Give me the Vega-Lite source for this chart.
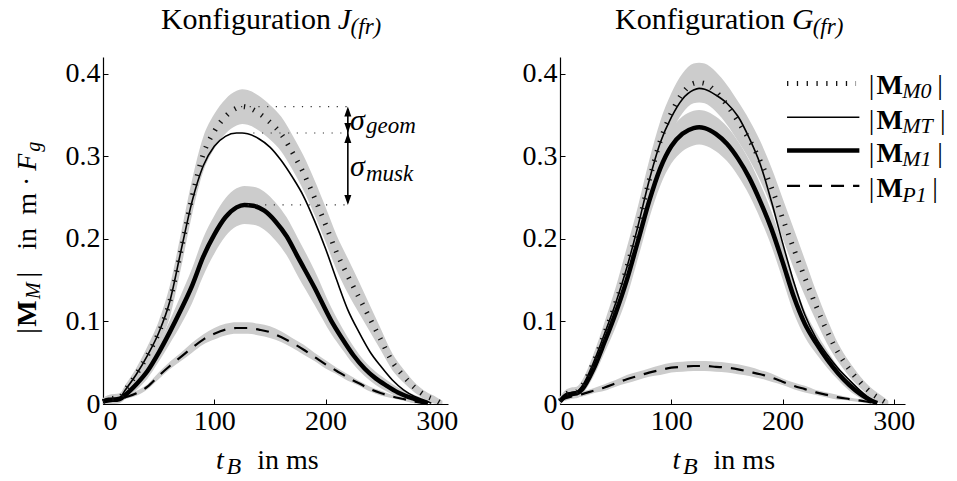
{
"$schema": "https://vega.github.io/schema/vega-lite/v6.json",
"padding": {"left": 14, "top": 4, "right": 0, "bottom": 0},
"spacing": 64,
"config": {
 "font": "Liberation Serif",
 "view": {"stroke": null},
 "axis": {"domainColor": "#000", "domainWidth": 1.2, "tickColor": "#000", "tickWidth": 1, "tickSize": -5, "labelFontSize": 28, "labelColor": "#000", "grid": false, "format": "~r", "labelPadding": 8},
 "text": {"color": "#000"}
},
"datasets": {
 "curves": [
  {"p":"J","s":"M0","x":0,"y":0.003,"lo":0,"hi":0.007},
  {"p":"J","s":"M0","x":5,"y":0.006,"lo":0.001,"hi":0.011},
  {"p":"J","s":"M0","x":10,"y":0.007,"lo":0.002,"hi":0.012},
  {"p":"J","s":"M0","x":15,"y":0.008,"lo":0.003,"hi":0.013},
  {"p":"J","s":"M0","x":20,"y":0.017,"lo":0.011,"hi":0.023},
  {"p":"J","s":"M0","x":30,"y":0.036,"lo":0.028,"hi":0.044},
  {"p":"J","s":"M0","x":40,"y":0.059,"lo":0.048,"hi":0.070},
  {"p":"J","s":"M0","x":50,"y":0.086,"lo":0.072,"hi":0.100},
  {"p":"J","s":"M0","x":60,"y":0.124,"lo":0.105,"hi":0.143},
  {"p":"J","s":"M0","x":70,"y":0.185,"lo":0.164,"hi":0.206},
  {"p":"J","s":"M0","x":80,"y":0.250,"lo":0.229,"hi":0.271},
  {"p":"J","s":"M0","x":90,"y":0.302,"lo":0.281,"hi":0.323},
  {"p":"J","s":"M0","x":100,"y":0.330,"lo":0.309,"hi":0.351},
  {"p":"J","s":"M0","x":110,"y":0.348,"lo":0.327,"hi":0.369},
  {"p":"J","s":"M0","x":120,"y":0.358,"lo":0.337,"hi":0.379},
  {"p":"J","s":"M0","x":125,"y":0.360,"lo":0.339,"hi":0.381},
  {"p":"J","s":"M0","x":130,"y":0.359,"lo":0.338,"hi":0.380},
  {"p":"J","s":"M0","x":140,"y":0.352,"lo":0.331,"hi":0.373},
  {"p":"J","s":"M0","x":150,"y":0.341,"lo":0.320,"hi":0.362},
  {"p":"J","s":"M0","x":160,"y":0.327,"lo":0.306,"hi":0.348},
  {"p":"J","s":"M0","x":170,"y":0.305,"lo":0.284,"hi":0.326},
  {"p":"J","s":"M0","x":180,"y":0.280,"lo":0.259,"hi":0.301},
  {"p":"J","s":"M0","x":190,"y":0.250,"lo":0.229,"hi":0.271},
  {"p":"J","s":"M0","x":200,"y":0.217,"lo":0.196,"hi":0.238},
  {"p":"J","s":"M0","x":210,"y":0.183,"lo":0.162,"hi":0.204},
  {"p":"J","s":"M0","x":220,"y":0.155,"lo":0.134,"hi":0.176},
  {"p":"J","s":"M0","x":230,"y":0.129,"lo":0.110,"hi":0.148},
  {"p":"J","s":"M0","x":240,"y":0.103,"lo":0.087,"hi":0.119},
  {"p":"J","s":"M0","x":250,"y":0.077,"lo":0.064,"hi":0.090},
  {"p":"J","s":"M0","x":260,"y":0.051,"lo":0.041,"hi":0.061},
  {"p":"J","s":"M0","x":270,"y":0.034,"lo":0.026,"hi":0.042},
  {"p":"J","s":"M0","x":280,"y":0.020,"lo":0.014,"hi":0.026},
  {"p":"J","s":"M0","x":290,"y":0.010,"lo":0.005,"hi":0.015},
  {"p":"J","s":"M0","x":300,"y":0.004,"lo":0,"hi":0.008},
  {"p":"J","s":"M0","x":305,"y":0.000,"lo":0,"hi":0.004},

  {"p":"J","s":"MT","x":0,"y":0.003},
  {"p":"J","s":"MT","x":5,"y":0.006},
  {"p":"J","s":"MT","x":10,"y":0.007},
  {"p":"J","s":"MT","x":15,"y":0.008},
  {"p":"J","s":"MT","x":20,"y":0.017},
  {"p":"J","s":"MT","x":30,"y":0.036},
  {"p":"J","s":"MT","x":40,"y":0.059},
  {"p":"J","s":"MT","x":50,"y":0.086},
  {"p":"J","s":"MT","x":60,"y":0.124},
  {"p":"J","s":"MT","x":70,"y":0.185},
  {"p":"J","s":"MT","x":80,"y":0.245},
  {"p":"J","s":"MT","x":90,"y":0.288},
  {"p":"J","s":"MT","x":100,"y":0.312},
  {"p":"J","s":"MT","x":110,"y":0.324},
  {"p":"J","s":"MT","x":120,"y":0.328},
  {"p":"J","s":"MT","x":125,"y":0.328},
  {"p":"J","s":"MT","x":130,"y":0.327},
  {"p":"J","s":"MT","x":140,"y":0.321},
  {"p":"J","s":"MT","x":150,"y":0.311},
  {"p":"J","s":"MT","x":160,"y":0.295},
  {"p":"J","s":"MT","x":170,"y":0.275},
  {"p":"J","s":"MT","x":180,"y":0.252},
  {"p":"J","s":"MT","x":190,"y":0.222},
  {"p":"J","s":"MT","x":200,"y":0.188},
  {"p":"J","s":"MT","x":210,"y":0.150},
  {"p":"J","s":"MT","x":220,"y":0.114},
  {"p":"J","s":"MT","x":230,"y":0.087},
  {"p":"J","s":"MT","x":240,"y":0.063},
  {"p":"J","s":"MT","x":250,"y":0.045},
  {"p":"J","s":"MT","x":260,"y":0.029},
  {"p":"J","s":"MT","x":270,"y":0.017},
  {"p":"J","s":"MT","x":280,"y":0.009},
  {"p":"J","s":"MT","x":290,"y":0.004},
  {"p":"J","s":"MT","x":295,"y":0.001},

  {"p":"J","s":"M1","x":0,"y":0.003,"lo":0,"hi":0.007},
  {"p":"J","s":"M1","x":5,"y":0.005,"lo":0,"hi":0.010},
  {"p":"J","s":"M1","x":10,"y":0.005,"lo":0,"hi":0.010},
  {"p":"J","s":"M1","x":15,"y":0.006,"lo":0.001,"hi":0.011},
  {"p":"J","s":"M1","x":20,"y":0.011,"lo":0.006,"hi":0.016},
  {"p":"J","s":"M1","x":30,"y":0.024,"lo":0.017,"hi":0.031},
  {"p":"J","s":"M1","x":40,"y":0.040,"lo":0.031,"hi":0.049},
  {"p":"J","s":"M1","x":50,"y":0.062,"lo":0.051,"hi":0.073},
  {"p":"J","s":"M1","x":60,"y":0.087,"lo":0.073,"hi":0.101},
  {"p":"J","s":"M1","x":70,"y":0.114,"lo":0.096,"hi":0.132},
  {"p":"J","s":"M1","x":80,"y":0.143,"lo":0.122,"hi":0.164},
  {"p":"J","s":"M1","x":90,"y":0.178,"lo":0.155,"hi":0.201},
  {"p":"J","s":"M1","x":100,"y":0.205,"lo":0.182,"hi":0.228},
  {"p":"J","s":"M1","x":110,"y":0.226,"lo":0.203,"hi":0.249},
  {"p":"J","s":"M1","x":120,"y":0.238,"lo":0.215,"hi":0.261},
  {"p":"J","s":"M1","x":127,"y":0.241,"lo":0.218,"hi":0.264},
  {"p":"J","s":"M1","x":135,"y":0.240,"lo":0.217,"hi":0.263},
  {"p":"J","s":"M1","x":145,"y":0.234,"lo":0.211,"hi":0.257},
  {"p":"J","s":"M1","x":155,"y":0.221,"lo":0.198,"hi":0.244},
  {"p":"J","s":"M1","x":165,"y":0.203,"lo":0.180,"hi":0.226},
  {"p":"J","s":"M1","x":175,"y":0.178,"lo":0.155,"hi":0.201},
  {"p":"J","s":"M1","x":190,"y":0.141,"lo":0.120,"hi":0.162},
  {"p":"J","s":"M1","x":205,"y":0.101,"lo":0.085,"hi":0.117},
  {"p":"J","s":"M1","x":215,"y":0.079,"lo":0.066,"hi":0.092},
  {"p":"J","s":"M1","x":225,"y":0.059,"lo":0.048,"hi":0.070},
  {"p":"J","s":"M1","x":235,"y":0.043,"lo":0.034,"hi":0.052},
  {"p":"J","s":"M1","x":245,"y":0.031,"lo":0.023,"hi":0.039},
  {"p":"J","s":"M1","x":255,"y":0.022,"lo":0.015,"hi":0.029},
  {"p":"J","s":"M1","x":265,"y":0.014,"lo":0.008,"hi":0.020},
  {"p":"J","s":"M1","x":280,"y":0.006,"lo":0.001,"hi":0.011},
  {"p":"J","s":"M1","x":292,"y":0.001,"lo":0,"hi":0.005},

  {"p":"J","s":"P1","x":0,"y":0.002,"lo":0,"hi":0.004},
  {"p":"J","s":"P1","x":10,"y":0.004,"lo":0.002,"hi":0.006},
  {"p":"J","s":"P1","x":20,"y":0.008,"lo":0.006,"hi":0.010},
  {"p":"J","s":"P1","x":30,"y":0.013,"lo":0.010,"hi":0.016},
  {"p":"J","s":"P1","x":40,"y":0.021,"lo":0.018,"hi":0.024},
  {"p":"J","s":"P1","x":50,"y":0.034,"lo":0.030,"hi":0.038},
  {"p":"J","s":"P1","x":60,"y":0.046,"lo":0.042,"hi":0.051},
  {"p":"J","s":"P1","x":70,"y":0.057,"lo":0.052,"hi":0.062},
  {"p":"J","s":"P1","x":80,"y":0.068,"lo":0.062,"hi":0.074},
  {"p":"J","s":"P1","x":90,"y":0.078,"lo":0.072,"hi":0.084},
  {"p":"J","s":"P1","x":100,"y":0.085,"lo":0.078,"hi":0.092},
  {"p":"J","s":"P1","x":110,"y":0.090,"lo":0.083,"hi":0.097},
  {"p":"J","s":"P1","x":120,"y":0.092,"lo":0.085,"hi":0.099},
  {"p":"J","s":"P1","x":130,"y":0.092,"lo":0.085,"hi":0.099},
  {"p":"J","s":"P1","x":140,"y":0.090,"lo":0.083,"hi":0.097},
  {"p":"J","s":"P1","x":150,"y":0.087,"lo":0.080,"hi":0.094},
  {"p":"J","s":"P1","x":160,"y":0.081,"lo":0.075,"hi":0.088},
  {"p":"J","s":"P1","x":170,"y":0.074,"lo":0.068,"hi":0.080},
  {"p":"J","s":"P1","x":180,"y":0.066,"lo":0.060,"hi":0.072},
  {"p":"J","s":"P1","x":190,"y":0.057,"lo":0.052,"hi":0.062},
  {"p":"J","s":"P1","x":200,"y":0.048,"lo":0.043,"hi":0.053},
  {"p":"J","s":"P1","x":210,"y":0.040,"lo":0.036,"hi":0.044},
  {"p":"J","s":"P1","x":220,"y":0.032,"lo":0.028,"hi":0.036},
  {"p":"J","s":"P1","x":230,"y":0.025,"lo":0.022,"hi":0.028},
  {"p":"J","s":"P1","x":240,"y":0.018,"lo":0.015,"hi":0.021},
  {"p":"J","s":"P1","x":250,"y":0.013,"lo":0.010,"hi":0.016},
  {"p":"J","s":"P1","x":260,"y":0.009,"lo":0.007,"hi":0.011},
  {"p":"J","s":"P1","x":270,"y":0.006,"lo":0.004,"hi":0.008},
  {"p":"J","s":"P1","x":280,"y":0.003,"lo":0.001,"hi":0.005},
  {"p":"J","s":"P1","x":290,"y":0.001,"lo":0,"hi":0.003},

  {"p":"G","s":"M0","x":0,"y":0.004,"lo":0,"hi":0.009},
  {"p":"G","s":"M0","x":5,"y":0.012,"lo":0.007,"hi":0.017},
  {"p":"G","s":"M0","x":10,"y":0.014,"lo":0.008,"hi":0.020},
  {"p":"G","s":"M0","x":15,"y":0.015,"lo":0.009,"hi":0.021},
  {"p":"G","s":"M0","x":20,"y":0.022,"lo":0.015,"hi":0.029},
  {"p":"G","s":"M0","x":30,"y":0.050,"lo":0.040,"hi":0.060},
  {"p":"G","s":"M0","x":40,"y":0.085,"lo":0.071,"hi":0.099},
  {"p":"G","s":"M0","x":50,"y":0.122,"lo":0.103,"hi":0.141},
  {"p":"G","s":"M0","x":60,"y":0.165,"lo":0.141,"hi":0.189},
  {"p":"G","s":"M0","x":70,"y":0.215,"lo":0.191,"hi":0.239},
  {"p":"G","s":"M0","x":80,"y":0.270,"lo":0.246,"hi":0.294},
  {"p":"G","s":"M0","x":90,"y":0.318,"lo":0.294,"hi":0.342},
  {"p":"G","s":"M0","x":100,"y":0.352,"lo":0.328,"hi":0.376},
  {"p":"G","s":"M0","x":110,"y":0.376,"lo":0.352,"hi":0.400},
  {"p":"G","s":"M0","x":120,"y":0.388,"lo":0.364,"hi":0.412},
  {"p":"G","s":"M0","x":125,"y":0.389,"lo":0.365,"hi":0.413},
  {"p":"G","s":"M0","x":130,"y":0.388,"lo":0.364,"hi":0.412},
  {"p":"G","s":"M0","x":140,"y":0.378,"lo":0.354,"hi":0.402},
  {"p":"G","s":"M0","x":150,"y":0.362,"lo":0.338,"hi":0.386},
  {"p":"G","s":"M0","x":160,"y":0.342,"lo":0.318,"hi":0.366},
  {"p":"G","s":"M0","x":170,"y":0.320,"lo":0.296,"hi":0.344},
  {"p":"G","s":"M0","x":180,"y":0.294,"lo":0.270,"hi":0.318},
  {"p":"G","s":"M0","x":190,"y":0.262,"lo":0.238,"hi":0.286},
  {"p":"G","s":"M0","x":200,"y":0.225,"lo":0.201,"hi":0.249},
  {"p":"G","s":"M0","x":210,"y":0.188,"lo":0.164,"hi":0.212},
  {"p":"G","s":"M0","x":220,"y":0.153,"lo":0.131,"hi":0.175},
  {"p":"G","s":"M0","x":230,"y":0.119,"lo":0.101,"hi":0.137},
  {"p":"G","s":"M0","x":240,"y":0.088,"lo":0.073,"hi":0.103},
  {"p":"G","s":"M0","x":250,"y":0.062,"lo":0.051,"hi":0.073},
  {"p":"G","s":"M0","x":260,"y":0.042,"lo":0.033,"hi":0.051},
  {"p":"G","s":"M0","x":270,"y":0.026,"lo":0.019,"hi":0.033},
  {"p":"G","s":"M0","x":280,"y":0.013,"lo":0.007,"hi":0.019},
  {"p":"G","s":"M0","x":290,"y":0.004,"lo":0,"hi":0.009},
  {"p":"G","s":"M0","x":295,"y":0.000,"lo":0,"hi":0.004},

  {"p":"G","s":"MT","x":0,"y":0.004},
  {"p":"G","s":"MT","x":5,"y":0.012},
  {"p":"G","s":"MT","x":10,"y":0.014},
  {"p":"G","s":"MT","x":15,"y":0.015},
  {"p":"G","s":"MT","x":20,"y":0.022},
  {"p":"G","s":"MT","x":30,"y":0.050},
  {"p":"G","s":"MT","x":40,"y":0.085},
  {"p":"G","s":"MT","x":50,"y":0.122},
  {"p":"G","s":"MT","x":60,"y":0.165},
  {"p":"G","s":"MT","x":70,"y":0.215},
  {"p":"G","s":"MT","x":80,"y":0.270},
  {"p":"G","s":"MT","x":90,"y":0.316},
  {"p":"G","s":"MT","x":100,"y":0.347},
  {"p":"G","s":"MT","x":110,"y":0.369},
  {"p":"G","s":"MT","x":120,"y":0.380},
  {"p":"G","s":"MT","x":125,"y":0.382},
  {"p":"G","s":"MT","x":130,"y":0.381},
  {"p":"G","s":"MT","x":140,"y":0.374},
  {"p":"G","s":"MT","x":150,"y":0.364},
  {"p":"G","s":"MT","x":160,"y":0.348},
  {"p":"G","s":"MT","x":170,"y":0.322},
  {"p":"G","s":"MT","x":180,"y":0.290},
  {"p":"G","s":"MT","x":190,"y":0.245},
  {"p":"G","s":"MT","x":200,"y":0.195},
  {"p":"G","s":"MT","x":210,"y":0.148},
  {"p":"G","s":"MT","x":220,"y":0.108},
  {"p":"G","s":"MT","x":230,"y":0.080},
  {"p":"G","s":"MT","x":240,"y":0.060},
  {"p":"G","s":"MT","x":250,"y":0.043},
  {"p":"G","s":"MT","x":260,"y":0.029},
  {"p":"G","s":"MT","x":270,"y":0.016},
  {"p":"G","s":"MT","x":280,"y":0.005},
  {"p":"G","s":"MT","x":285,"y":0.001},

  {"p":"G","s":"M1","x":0,"y":0.003,"lo":0,"hi":0.007},
  {"p":"G","s":"M1","x":5,"y":0.010,"lo":0.005,"hi":0.015},
  {"p":"G","s":"M1","x":10,"y":0.012,"lo":0.007,"hi":0.017},
  {"p":"G","s":"M1","x":15,"y":0.013,"lo":0.007,"hi":0.019},
  {"p":"G","s":"M1","x":20,"y":0.018,"lo":0.012,"hi":0.024},
  {"p":"G","s":"M1","x":30,"y":0.042,"lo":0.033,"hi":0.051},
  {"p":"G","s":"M1","x":40,"y":0.075,"lo":0.062,"hi":0.088},
  {"p":"G","s":"M1","x":50,"y":0.110,"lo":0.093,"hi":0.127},
  {"p":"G","s":"M1","x":60,"y":0.150,"lo":0.129,"hi":0.171},
  {"p":"G","s":"M1","x":70,"y":0.197,"lo":0.176,"hi":0.218},
  {"p":"G","s":"M1","x":80,"y":0.245,"lo":0.224,"hi":0.266},
  {"p":"G","s":"M1","x":90,"y":0.285,"lo":0.264,"hi":0.306},
  {"p":"G","s":"M1","x":100,"y":0.312,"lo":0.291,"hi":0.333},
  {"p":"G","s":"M1","x":110,"y":0.327,"lo":0.306,"hi":0.348},
  {"p":"G","s":"M1","x":120,"y":0.334,"lo":0.313,"hi":0.355},
  {"p":"G","s":"M1","x":125,"y":0.335,"lo":0.314,"hi":0.356},
  {"p":"G","s":"M1","x":130,"y":0.334,"lo":0.313,"hi":0.355},
  {"p":"G","s":"M1","x":140,"y":0.327,"lo":0.306,"hi":0.348},
  {"p":"G","s":"M1","x":150,"y":0.315,"lo":0.294,"hi":0.336},
  {"p":"G","s":"M1","x":160,"y":0.297,"lo":0.276,"hi":0.318},
  {"p":"G","s":"M1","x":170,"y":0.274,"lo":0.253,"hi":0.295},
  {"p":"G","s":"M1","x":180,"y":0.245,"lo":0.224,"hi":0.266},
  {"p":"G","s":"M1","x":190,"y":0.212,"lo":0.191,"hi":0.233},
  {"p":"G","s":"M1","x":200,"y":0.172,"lo":0.151,"hi":0.193},
  {"p":"G","s":"M1","x":210,"y":0.130,"lo":0.110,"hi":0.150},
  {"p":"G","s":"M1","x":220,"y":0.097,"lo":0.081,"hi":0.113},
  {"p":"G","s":"M1","x":230,"y":0.074,"lo":0.061,"hi":0.087},
  {"p":"G","s":"M1","x":240,"y":0.054,"lo":0.044,"hi":0.065},
  {"p":"G","s":"M1","x":250,"y":0.037,"lo":0.029,"hi":0.045},
  {"p":"G","s":"M1","x":260,"y":0.023,"lo":0.016,"hi":0.030},
  {"p":"G","s":"M1","x":270,"y":0.012,"lo":0.007,"hi":0.017},
  {"p":"G","s":"M1","x":280,"y":0.004,"lo":0,"hi":0.009},
  {"p":"G","s":"M1","x":285,"y":0.001,"lo":0,"hi":0.005},

  {"p":"G","s":"P1","x":0,"y":0.004,"lo":0.002,"hi":0.006},
  {"p":"G","s":"P1","x":5,"y":0.007,"lo":0.004,"hi":0.010},
  {"p":"G","s":"P1","x":10,"y":0.009,"lo":0.006,"hi":0.012},
  {"p":"G","s":"P1","x":20,"y":0.012,"lo":0.009,"hi":0.015},
  {"p":"G","s":"P1","x":30,"y":0.016,"lo":0.013,"hi":0.019},
  {"p":"G","s":"P1","x":40,"y":0.020,"lo":0.016,"hi":0.024},
  {"p":"G","s":"P1","x":50,"y":0.025,"lo":0.021,"hi":0.029},
  {"p":"G","s":"P1","x":60,"y":0.030,"lo":0.025,"hi":0.035},
  {"p":"G","s":"P1","x":70,"y":0.034,"lo":0.029,"hi":0.039},
  {"p":"G","s":"P1","x":80,"y":0.038,"lo":0.033,"hi":0.043},
  {"p":"G","s":"P1","x":90,"y":0.041,"lo":0.035,"hi":0.047},
  {"p":"G","s":"P1","x":100,"y":0.044,"lo":0.038,"hi":0.050},
  {"p":"G","s":"P1","x":110,"y":0.045,"lo":0.039,"hi":0.051},
  {"p":"G","s":"P1","x":120,"y":0.046,"lo":0.040,"hi":0.052},
  {"p":"G","s":"P1","x":130,"y":0.046,"lo":0.040,"hi":0.052},
  {"p":"G","s":"P1","x":140,"y":0.045,"lo":0.039,"hi":0.051},
  {"p":"G","s":"P1","x":150,"y":0.044,"lo":0.038,"hi":0.050},
  {"p":"G","s":"P1","x":160,"y":0.042,"lo":0.036,"hi":0.048},
  {"p":"G","s":"P1","x":170,"y":0.039,"lo":0.034,"hi":0.045},
  {"p":"G","s":"P1","x":180,"y":0.036,"lo":0.031,"hi":0.041},
  {"p":"G","s":"P1","x":190,"y":0.032,"lo":0.027,"hi":0.037},
  {"p":"G","s":"P1","x":200,"y":0.027,"lo":0.023,"hi":0.031},
  {"p":"G","s":"P1","x":210,"y":0.022,"lo":0.018,"hi":0.026},
  {"p":"G","s":"P1","x":220,"y":0.018,"lo":0.014,"hi":0.022},
  {"p":"G","s":"P1","x":230,"y":0.014,"lo":0.011,"hi":0.017},
  {"p":"G","s":"P1","x":240,"y":0.011,"lo":0.008,"hi":0.014},
  {"p":"G","s":"P1","x":250,"y":0.008,"lo":0.005,"hi":0.011},
  {"p":"G","s":"P1","x":260,"y":0.006,"lo":0.004,"hi":0.008},
  {"p":"G","s":"P1","x":270,"y":0.004,"lo":0.002,"hi":0.006},
  {"p":"G","s":"P1","x":280,"y":0.002,"lo":0,"hi":0.004},
  {"p":"G","s":"P1","x":285,"y":0.001,"lo":0,"hi":0.003}
 ]
},
"hconcat": [
 {
  "width": 345, "height": 347,
  "layer": [
   {"data": {"name": "curves"}, "transform": [{"filter": "datum.p==='J' && datum.s==='M0'"}], "mark": {"type": "area", "interpolate": "monotone", "color": "#cccccc", "opacity": 1}, "encoding": {"x": {"field": "x", "type": "quantitative", "scale": {"domain": [0, 310], "nice": false}, "axis": {"values": [0, 100, 200, 300], "title": null}}, "y": {"field": "lo", "type": "quantitative", "scale": {"domain": [0, 0.42], "nice": false}, "axis": {"values": [0, 0.1, 0.2, 0.3, 0.4], "title": null}}, "y2": {"field": "hi"}}},
   {"data": {"name": "curves"}, "transform": [{"filter": "datum.p==='J' && datum.s==='M1'"}], "mark": {"type": "area", "interpolate": "monotone", "color": "#cccccc", "opacity": 1}, "encoding": {"x": {"field": "x", "type": "quantitative", "scale": {"domain": [0, 310], "nice": false}, "axis": {"values": [0, 100, 200, 300], "title": null}}, "y": {"field": "lo", "type": "quantitative", "scale": {"domain": [0, 0.42], "nice": false}, "axis": {"values": [0, 0.1, 0.2, 0.3, 0.4], "title": null}}, "y2": {"field": "hi"}}},
   {"data": {"name": "curves"}, "transform": [{"filter": "datum.p==='J' && datum.s==='P1'"}], "mark": {"type": "area", "interpolate": "monotone", "color": "#cccccc", "opacity": 1}, "encoding": {"x": {"field": "x", "type": "quantitative", "scale": {"domain": [0, 310], "nice": false}, "axis": {"values": [0, 100, 200, 300], "title": null}}, "y": {"field": "lo", "type": "quantitative", "scale": {"domain": [0, 0.42], "nice": false}, "axis": {"values": [0, 0.1, 0.2, 0.3, 0.4], "title": null}}, "y2": {"field": "hi"}}},
   {"data": {"name": "curves"}, "transform": [{"filter": "datum.p==='J' && datum.s==='MT'"}], "mark": {"type": "line", "interpolate": "monotone", "color": "#000", "strokeWidth": 1.6}, "encoding": {"x": {"field": "x", "type": "quantitative", "scale": {"domain": [0, 310], "nice": false}, "axis": {"values": [0, 100, 200, 300], "title": null}}, "y": {"field": "y", "type": "quantitative", "scale": {"domain": [0, 0.42], "nice": false}, "axis": {"values": [0, 0.1, 0.2, 0.3, 0.4], "title": null}}}},
   {"data": {"name": "curves"}, "transform": [{"filter": "datum.p==='J' && datum.s==='M1'"}], "mark": {"type": "line", "interpolate": "monotone", "color": "#000", "strokeWidth": 4.5}, "encoding": {"x": {"field": "x", "type": "quantitative", "scale": {"domain": [0, 310], "nice": false}, "axis": {"values": [0, 100, 200, 300], "title": null}}, "y": {"field": "y", "type": "quantitative", "scale": {"domain": [0, 0.42], "nice": false}, "axis": {"values": [0, 0.1, 0.2, 0.3, 0.4], "title": null}}}},
   {"data": {"name": "curves"}, "transform": [{"filter": "datum.p==='J' && datum.s==='P1'"}], "mark": {"type": "line", "interpolate": "monotone", "color": "#000", "strokeWidth": 2.2, "strokeDash": [13, 9]}, "encoding": {"x": {"field": "x", "type": "quantitative", "scale": {"domain": [0, 310], "nice": false}, "axis": {"values": [0, 100, 200, 300], "title": null}}, "y": {"field": "y", "type": "quantitative", "scale": {"domain": [0, 0.42], "nice": false}, "axis": {"values": [0, 0.1, 0.2, 0.3, 0.4], "title": null}}}},
   {"data": {"name": "curves"}, "transform": [{"filter": "datum.p==='J' && datum.s==='M0'"}], "mark": {"type": "line", "interpolate": "monotone", "color": "#111", "strokeWidth": 5, "strokeDash": [1.3, 8.5], "strokeCap": "butt"}, "encoding": {"x": {"field": "x", "type": "quantitative", "scale": {"domain": [0, 310], "nice": false}, "axis": {"values": [0, 100, 200, 300], "title": null}}, "y": {"field": "y", "type": "quantitative", "scale": {"domain": [0, 0.42], "nice": false}, "axis": {"values": [0, 0.1, 0.2, 0.3, 0.4], "title": null}}}},

   {"data": {"values": [{}]}, "mark": {"type": "rule", "color": "#333", "strokeWidth": 1.2, "strokeDash": [1.2, 7.5]}, "encoding": {"x": {"datum": 124}, "x2": {"datum": 220}, "y": {"datum": 0.36}}},
   {"data": {"values": [{}]}, "mark": {"type": "rule", "color": "#333", "strokeWidth": 1.2, "strokeDash": [1.2, 7.5]}, "encoding": {"x": {"datum": 135}, "x2": {"datum": 220}, "y": {"datum": 0.328}}},
   {"data": {"values": [{}]}, "mark": {"type": "rule", "color": "#333", "strokeWidth": 1.2, "strokeDash": [1.2, 7.5]}, "encoding": {"x": {"datum": 130}, "x2": {"datum": 220}, "y": {"datum": 0.241}}},
   {"data": {"values": [{}]}, "mark": {"type": "rule", "color": "#000", "strokeWidth": 1.6}, "encoding": {"x": {"datum": 220}, "y": {"datum": 0.357}, "y2": {"datum": 0.244}}},
   {"data": {"values": [{}]}, "mark": {"type": "point", "shape": "M0,0L-0.7,2L0.7,2Z", "filled": true, "opacity": 1, "color": "#000", "size": 100}, "encoding": {"x": {"datum": 220}, "y": {"datum": 0.36}}},
   {"data": {"values": [{}]}, "mark": {"type": "point", "shape": "M0,0L-0.7,-2L0.7,-2Z", "filled": true, "opacity": 1, "color": "#000", "size": 100}, "encoding": {"x": {"datum": 220}, "y": {"datum": 0.328}}},
   {"data": {"values": [{}]}, "mark": {"type": "point", "shape": "M0,0L-0.7,2L0.7,2Z", "filled": true, "opacity": 1, "color": "#000", "size": 100}, "encoding": {"x": {"datum": 220}, "y": {"datum": 0.328}}},
   {"data": {"values": [{}]}, "mark": {"type": "point", "shape": "M0,0L-0.7,-2L0.7,-2Z", "filled": true, "opacity": 1, "color": "#000", "size": 100}, "encoding": {"x": {"datum": 220}, "y": {"datum": 0.241}}},
   {"data": {"values": [{}]}, "mark": {"type": "text", "text": "σ", "align": "left", "baseline": "alphabetic", "fontSize": 30, "fontStyle": "italic"}, "encoding": {"x": {"datum": 222}, "y": {"datum": 0.3317}}},
   {"data": {"values": [{}]}, "mark": {"type": "text", "text": "geom", "align": "left", "baseline": "alphabetic", "fontSize": 23, "fontStyle": "italic"}, "encoding": {"x": {"datum": 236.3}, "y": {"datum": 0.3275}}},
   {"data": {"values": [{}]}, "mark": {"type": "text", "text": "σ", "align": "left", "baseline": "alphabetic", "fontSize": 30, "fontStyle": "italic"}, "encoding": {"x": {"datum": 222}, "y": {"datum": 0.2764}}},
   {"data": {"values": [{}]}, "mark": {"type": "text", "text": "musk", "align": "left", "baseline": "alphabetic", "fontSize": 23, "fontStyle": "italic"}, "encoding": {"x": {"datum": 236.3}, "y": {"datum": 0.2705}}},

   {"data": {"values": [{}]}, "mark": {"type": "text", "text": "Konfiguration", "align": "right", "baseline": "alphabetic", "fontSize": 30}, "encoding": {"x": {"datum": 204.8}, "y": {"datum": 0.454}}},
   {"data": {"values": [{}]}, "mark": {"type": "text", "text": "J", "align": "left", "baseline": "alphabetic", "fontSize": 30, "fontStyle": "italic"}, "encoding": {"x": {"datum": 211}, "y": {"datum": 0.454}}},
   {"data": {"values": [{}]}, "mark": {"type": "text", "text": "(fr)", "align": "left", "baseline": "alphabetic", "fontSize": 23, "fontStyle": "italic"}, "encoding": {"x": {"datum": 222.5}, "y": {"datum": 0.448}}},

   {"data": {"values": [{}]}, "mark": {"type": "text", "text": "t", "align": "left", "baseline": "alphabetic", "fontSize": 28, "fontStyle": "italic"}, "encoding": {"x": {"datum": 101.5}, "y": {"datum": -0.0783}}},
   {"data": {"values": [{}]}, "mark": {"type": "text", "text": "B", "align": "left", "baseline": "alphabetic", "fontSize": 24, "fontStyle": "italic"}, "encoding": {"x": {"datum": 111}, "y": {"datum": -0.0844}}},
   {"data": {"values": [{}]}, "mark": {"type": "text", "text": "in ms", "align": "left", "baseline": "alphabetic", "fontSize": 28}, "encoding": {"x": {"datum": 138.5}, "y": {"datum": -0.0783}}},

   {"data": {"values": [{}]}, "mark": {"type": "text", "text": "|", "align": "left", "baseline": "alphabetic", "fontSize": 28, "angle": 270}, "encoding": {"x": {"datum": -60.2}, "y": {"datum": 0.0851}}},
   {"data": {"values": [{}]}, "mark": {"type": "text", "text": "M", "align": "left", "baseline": "alphabetic", "fontSize": 28, "fontWeight": "bold", "angle": 270}, "encoding": {"x": {"datum": -60.2}, "y": {"datum": 0.0936}}},
   {"data": {"values": [{}]}, "mark": {"type": "text", "text": "M", "align": "left", "baseline": "alphabetic", "fontSize": 20, "fontStyle": "italic", "angle": 270}, "encoding": {"x": {"datum": -56.6}, "y": {"datum": 0.127}}},
   {"data": {"values": [{}]}, "mark": {"type": "text", "text": "|", "align": "left", "baseline": "alphabetic", "fontSize": 28, "angle": 270}, "encoding": {"x": {"datum": -60.2}, "y": {"datum": 0.153}}},
   {"data": {"values": [{}]}, "mark": {"type": "text", "text": "in", "align": "left", "baseline": "alphabetic", "fontSize": 28, "angle": 270}, "encoding": {"x": {"datum": -60.2}, "y": {"datum": 0.1868}}},
   {"data": {"values": [{}]}, "mark": {"type": "text", "text": "m", "align": "left", "baseline": "alphabetic", "fontSize": 28, "angle": 270}, "encoding": {"x": {"datum": -60.2}, "y": {"datum": 0.2292}}},
   {"data": {"values": [{}]}, "mark": {"type": "text", "text": "·", "align": "left", "baseline": "alphabetic", "fontSize": 28, "angle": 270}, "encoding": {"x": {"datum": -60.2}, "y": {"datum": 0.264}}},
   {"data": {"values": [{}]}, "mark": {"type": "text", "text": "F", "align": "left", "baseline": "alphabetic", "fontSize": 28, "fontStyle": "italic", "angle": 270}, "encoding": {"x": {"datum": -60.2}, "y": {"datum": 0.2824}}},
   {"data": {"values": [{}]}, "mark": {"type": "text", "text": "g", "align": "left", "baseline": "alphabetic", "fontSize": 20, "fontStyle": "italic", "angle": 270}, "encoding": {"x": {"datum": -56.6}, "y": {"datum": 0.3054}}}
  ]
 },
 {
  "width": 345, "height": 347,
  "layer": [
   {"data": {"name": "curves"}, "transform": [{"filter": "datum.p==='G' && datum.s==='M0'"}], "mark": {"type": "area", "interpolate": "monotone", "color": "#cccccc", "opacity": 1}, "encoding": {"x": {"field": "x", "type": "quantitative", "scale": {"domain": [0, 310], "nice": false}, "axis": {"values": [0, 100, 200, 300], "title": null}}, "y": {"field": "lo", "type": "quantitative", "scale": {"domain": [0, 0.42], "nice": false}, "axis": {"values": [0, 0.1, 0.2, 0.3, 0.4], "title": null}}, "y2": {"field": "hi"}}},
   {"data": {"name": "curves"}, "transform": [{"filter": "datum.p==='G' && datum.s==='M1'"}], "mark": {"type": "area", "interpolate": "monotone", "color": "#cccccc", "opacity": 1}, "encoding": {"x": {"field": "x", "type": "quantitative", "scale": {"domain": [0, 310], "nice": false}, "axis": {"values": [0, 100, 200, 300], "title": null}}, "y": {"field": "lo", "type": "quantitative", "scale": {"domain": [0, 0.42], "nice": false}, "axis": {"values": [0, 0.1, 0.2, 0.3, 0.4], "title": null}}, "y2": {"field": "hi"}}},
   {"data": {"name": "curves"}, "transform": [{"filter": "datum.p==='G' && datum.s==='P1'"}], "mark": {"type": "area", "interpolate": "monotone", "color": "#cccccc", "opacity": 1}, "encoding": {"x": {"field": "x", "type": "quantitative", "scale": {"domain": [0, 310], "nice": false}, "axis": {"values": [0, 100, 200, 300], "title": null}}, "y": {"field": "lo", "type": "quantitative", "scale": {"domain": [0, 0.42], "nice": false}, "axis": {"values": [0, 0.1, 0.2, 0.3, 0.4], "title": null}}, "y2": {"field": "hi"}}},
   {"data": {"name": "curves"}, "transform": [{"filter": "datum.p==='G' && datum.s==='MT'"}], "mark": {"type": "line", "interpolate": "monotone", "color": "#000", "strokeWidth": 1.6}, "encoding": {"x": {"field": "x", "type": "quantitative", "scale": {"domain": [0, 310], "nice": false}, "axis": {"values": [0, 100, 200, 300], "title": null}}, "y": {"field": "y", "type": "quantitative", "scale": {"domain": [0, 0.42], "nice": false}, "axis": {"values": [0, 0.1, 0.2, 0.3, 0.4], "title": null}}}},
   {"data": {"name": "curves"}, "transform": [{"filter": "datum.p==='G' && datum.s==='M1'"}], "mark": {"type": "line", "interpolate": "monotone", "color": "#000", "strokeWidth": 4.5}, "encoding": {"x": {"field": "x", "type": "quantitative", "scale": {"domain": [0, 310], "nice": false}, "axis": {"values": [0, 100, 200, 300], "title": null}}, "y": {"field": "y", "type": "quantitative", "scale": {"domain": [0, 0.42], "nice": false}, "axis": {"values": [0, 0.1, 0.2, 0.3, 0.4], "title": null}}}},
   {"data": {"name": "curves"}, "transform": [{"filter": "datum.p==='G' && datum.s==='P1'"}], "mark": {"type": "line", "interpolate": "monotone", "color": "#000", "strokeWidth": 2.2, "strokeDash": [13, 9]}, "encoding": {"x": {"field": "x", "type": "quantitative", "scale": {"domain": [0, 310], "nice": false}, "axis": {"values": [0, 100, 200, 300], "title": null}}, "y": {"field": "y", "type": "quantitative", "scale": {"domain": [0, 0.42], "nice": false}, "axis": {"values": [0, 0.1, 0.2, 0.3, 0.4], "title": null}}}},
   {"data": {"name": "curves"}, "transform": [{"filter": "datum.p==='G' && datum.s==='M0'"}], "mark": {"type": "line", "interpolate": "monotone", "color": "#111", "strokeWidth": 5, "strokeDash": [1.3, 8.5], "strokeCap": "butt"}, "encoding": {"x": {"field": "x", "type": "quantitative", "scale": {"domain": [0, 310], "nice": false}, "axis": {"values": [0, 100, 200, 300], "title": null}}, "y": {"field": "y", "type": "quantitative", "scale": {"domain": [0, 0.42], "nice": false}, "axis": {"values": [0, 0.1, 0.2, 0.3, 0.4], "title": null}}}},

   {"data": {"values": [{}]}, "mark": {"type": "text", "text": "Konfiguration", "align": "right", "baseline": "alphabetic", "fontSize": 30}, "encoding": {"x": {"datum": 202.2}, "y": {"datum": 0.454}}},
   {"data": {"values": [{}]}, "mark": {"type": "text", "text": "G", "align": "left", "baseline": "alphabetic", "fontSize": 30, "fontStyle": "italic"}, "encoding": {"x": {"datum": 208.5}, "y": {"datum": 0.454}}},
   {"data": {"values": [{}]}, "mark": {"type": "text", "text": "(fr)", "align": "left", "baseline": "alphabetic", "fontSize": 23, "fontStyle": "italic"}, "encoding": {"x": {"datum": 227}, "y": {"datum": 0.448}}},

   {"data": {"values": [{}]}, "mark": {"type": "text", "text": "t", "align": "left", "baseline": "alphabetic", "fontSize": 28, "fontStyle": "italic"}, "encoding": {"x": {"datum": 101}, "y": {"datum": -0.0783}}},
   {"data": {"values": [{}]}, "mark": {"type": "text", "text": "B", "align": "left", "baseline": "alphabetic", "fontSize": 24, "fontStyle": "italic"}, "encoding": {"x": {"datum": 110.5}, "y": {"datum": -0.0844}}},
   {"data": {"values": [{}]}, "mark": {"type": "text", "text": "in ms", "align": "left", "baseline": "alphabetic", "fontSize": 28}, "encoding": {"x": {"datum": 138}, "y": {"datum": -0.0783}}},

   {"data": {"values": [{}]}, "mark": {"type": "rule", "color": "#111", "strokeWidth": 5, "strokeDash": [1.3, 8.5], "strokeCap": "butt"}, "encoding": {"x": {"datum": 204}, "x2": {"datum": 266}, "y": {"datum": 0.388}}},
   {"data": {"values": [{}]}, "mark": {"type": "rule", "color": "#000", "strokeWidth": 1.6}, "encoding": {"x": {"datum": 204}, "x2": {"datum": 269}, "y": {"datum": 0.347}}},
   {"data": {"values": [{}]}, "mark": {"type": "rule", "color": "#000", "strokeWidth": 4.5}, "encoding": {"x": {"datum": 204}, "x2": {"datum": 269}, "y": {"datum": 0.3067}}},
   {"data": {"values": [{}]}, "mark": {"type": "rule", "color": "#000", "strokeWidth": 2.2, "strokeDash": [13, 9]}, "encoding": {"x": {"datum": 204}, "x2": {"datum": 269}, "y": {"datum": 0.264}}},

   {"data": {"values": [{}]}, "mark": {"type": "text", "text": "|", "align": "left", "baseline": "alphabetic", "fontSize": 28}, "encoding": {"x": {"datum": 277.5}, "y": {"datum": 0.3753}}},
   {"data": {"values": [{}]}, "mark": {"type": "text", "text": "M", "align": "left", "baseline": "alphabetic", "fontSize": 28, "fontWeight": "bold"}, "encoding": {"x": {"datum": 284.5}, "y": {"datum": 0.3753}}},
   {"data": {"values": [{}]}, "mark": {"type": "text", "text": "M0", "align": "left", "baseline": "alphabetic", "fontSize": 22, "fontStyle": "italic"}, "encoding": {"x": {"datum": 307.5}, "y": {"datum": 0.3703}}},
   {"data": {"values": [{}]}, "mark": {"type": "text", "text": "|", "align": "right", "baseline": "alphabetic", "fontSize": 28}, "encoding": {"x": {"datum": 344}, "y": {"datum": 0.3753}}},

   {"data": {"values": [{}]}, "mark": {"type": "text", "text": "|", "align": "left", "baseline": "alphabetic", "fontSize": 28}, "encoding": {"x": {"datum": 277.5}, "y": {"datum": 0.333}}},
   {"data": {"values": [{}]}, "mark": {"type": "text", "text": "M", "align": "left", "baseline": "alphabetic", "fontSize": 28, "fontWeight": "bold"}, "encoding": {"x": {"datum": 284.5}, "y": {"datum": 0.333}}},
   {"data": {"values": [{}]}, "mark": {"type": "text", "text": "MT", "align": "left", "baseline": "alphabetic", "fontSize": 22, "fontStyle": "italic"}, "encoding": {"x": {"datum": 307.5}, "y": {"datum": 0.328}}},
   {"data": {"values": [{}]}, "mark": {"type": "text", "text": "|", "align": "right", "baseline": "alphabetic", "fontSize": 28}, "encoding": {"x": {"datum": 346.5}, "y": {"datum": 0.333}}},

   {"data": {"values": [{}]}, "mark": {"type": "text", "text": "|", "align": "left", "baseline": "alphabetic", "fontSize": 28}, "encoding": {"x": {"datum": 277.5}, "y": {"datum": 0.2925}}},
   {"data": {"values": [{}]}, "mark": {"type": "text", "text": "M", "align": "left", "baseline": "alphabetic", "fontSize": 28, "fontWeight": "bold"}, "encoding": {"x": {"datum": 284.5}, "y": {"datum": 0.2925}}},
   {"data": {"values": [{}]}, "mark": {"type": "text", "text": "M1", "align": "left", "baseline": "alphabetic", "fontSize": 22, "fontStyle": "italic"}, "encoding": {"x": {"datum": 307.5}, "y": {"datum": 0.2875}}},
   {"data": {"values": [{}]}, "mark": {"type": "text", "text": "|", "align": "right", "baseline": "alphabetic", "fontSize": 28}, "encoding": {"x": {"datum": 344}, "y": {"datum": 0.2925}}},

   {"data": {"values": [{}]}, "mark": {"type": "text", "text": "|", "align": "left", "baseline": "alphabetic", "fontSize": 28}, "encoding": {"x": {"datum": 277.5}, "y": {"datum": 0.250}}},
   {"data": {"values": [{}]}, "mark": {"type": "text", "text": "M", "align": "left", "baseline": "alphabetic", "fontSize": 28, "fontWeight": "bold"}, "encoding": {"x": {"datum": 284.5}, "y": {"datum": 0.250}}},
   {"data": {"values": [{}]}, "mark": {"type": "text", "text": "P1", "align": "left", "baseline": "alphabetic", "fontSize": 22, "fontStyle": "italic"}, "encoding": {"x": {"datum": 307.5}, "y": {"datum": 0.245}}},
   {"data": {"values": [{}]}, "mark": {"type": "text", "text": "|", "align": "right", "baseline": "alphabetic", "fontSize": 28}, "encoding": {"x": {"datum": 339.5}, "y": {"datum": 0.250}}}
  ]
 }
]
}
